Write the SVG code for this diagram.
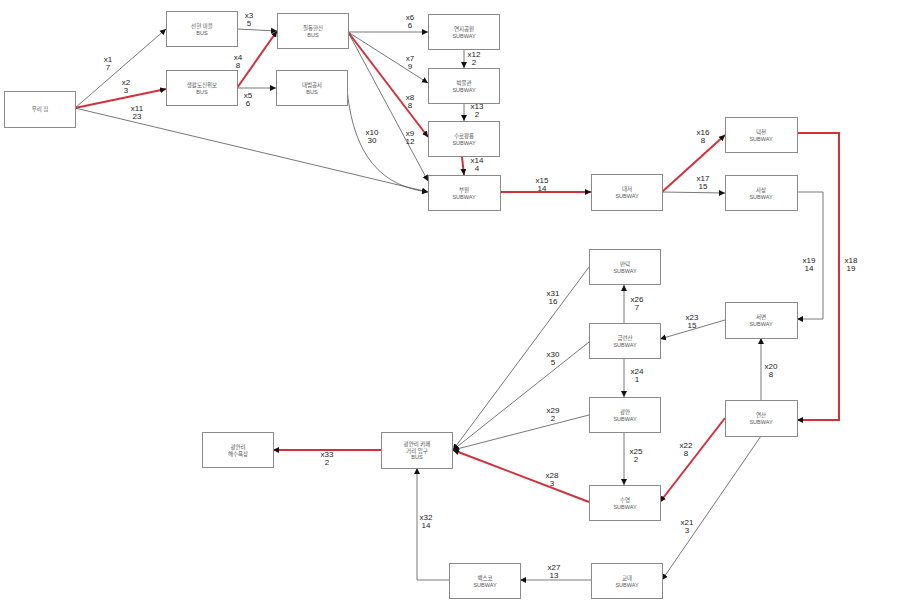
<svg xmlns="http://www.w3.org/2000/svg" width="903" height="603" viewBox="0 0 903 603">
<style>
.n rect{fill:#fff;stroke:#8a8a8a;stroke-width:1}
.n text{font-family:"Liberation Sans","Noto Sans CJK KR",sans-serif;font-size:5.5px;fill:#555;text-anchor:middle}
.e path{fill:none;stroke:#555;stroke-width:0.8;marker-end:url(#a)}
.e path.r{stroke:#d3303c;stroke-width:2}
.l text{font-family:"Liberation Sans","Noto Sans CJK KR",sans-serif;font-size:8px;fill:#222;text-anchor:middle}
</style>
<defs>
<marker id="a" markerUnits="userSpaceOnUse" markerWidth="8" markerHeight="8" refX="6" refY="3" orient="auto" viewBox="0 0 8 6">
<path d="M0,0 L6,3 L0,6 z" fill="#111"/>
</marker>
</defs>
<rect width="903" height="603" fill="#fff"/>
<g class="e" id="connectors">
<path d="M75,108 L166,29"/>
<path class="r" d="M75,108 L166,89"/>
<path d="M75,108 L428,192"/>
<path d="M237,29 L277,31"/>
<path class="r" d="M237,88 L277,31"/>
<path d="M237,88 L276,88"/>
<path d="M348,32 L428,32"/>
<path d="M348,32 L428,83"/>
<path class="r" d="M348,32 L428,137"/>
<path d="M348,32 L428,181"/>
<path d="M347,89 C352,140 370,185 428,192"/>
<path d="M464,50 L464,68"/>
<path d="M464,104 L464,121"/>
<path class="r" d="M462,157 L464,175"/>
<path class="r" d="M500,192 L591,192"/>
<path class="r" d="M662,192 L725,135"/>
<path d="M662,192 L725,193"/>
<path class="r" d="M797,133 L839,133 L839,420 L797,420"/>
<path d="M797,192 L823,192 L823,319 L797,319"/>
<path d="M761,401 L761,338"/>
<path d="M761,436 L662,580"/>
<path class="r" d="M725,418 L660,502"/>
<path d="M725,320 L660,339"/>
<path d="M624,359 L624,397"/>
<path d="M624,433 L624,485"/>
<path d="M624,323 L624,285"/>
<path d="M591,580 L520,580"/>
<path class="r" d="M589,502 L453,450"/>
<path d="M589,415 L453,450"/>
<path d="M589,342 L453,450"/>
<path d="M589,267 L453,450"/>
<path d="M449,580 L417,580 L417,468"/>
<path class="r" d="M381,450 L273,450"/>
</g>
<g class="l" id="labels">
<text x="108" y="62">x1</text><text x="108" y="70">7</text>
<text x="126" y="85">x2</text><text x="126" y="93">3</text>
<text x="137" y="111">x11</text><text x="137" y="119">23</text>
<text x="249" y="18">x3</text><text x="249" y="26">5</text>
<text x="238" y="60">x4</text><text x="238" y="68">8</text>
<text x="248" y="98">x5</text><text x="248" y="106">6</text>
<text x="410" y="20">x6</text><text x="410" y="28">6</text>
<text x="410" y="61">x7</text><text x="410" y="69">9</text>
<text x="410" y="100">x8</text><text x="410" y="108">8</text>
<text x="410" y="136">x9</text><text x="410" y="144">12</text>
<text x="372" y="135">x10</text><text x="372" y="143">30</text>
<text x="474" y="57">x12</text><text x="474" y="65">2</text>
<text x="477" y="109">x13</text><text x="477" y="117">2</text>
<text x="477" y="163">x14</text><text x="477" y="171">4</text>
<text x="542" y="183">x15</text><text x="542" y="191">14</text>
<text x="703" y="135">x16</text><text x="703" y="143">8</text>
<text x="703" y="181">x17</text><text x="703" y="189">15</text>
<text x="809" y="263">x19</text><text x="809" y="271">14</text>
<text x="851" y="263">x18</text><text x="851" y="271">19</text>
<text x="553" y="296">x31</text><text x="553" y="304">16</text>
<text x="637" y="302">x26</text><text x="637" y="310">7</text>
<text x="692" y="320">x23</text><text x="692" y="328">15</text>
<text x="553" y="357">x30</text><text x="553" y="365">5</text>
<text x="637" y="374">x24</text><text x="637" y="382">1</text>
<text x="771" y="369">x20</text><text x="771" y="377">8</text>
<text x="553" y="413">x29</text><text x="553" y="421">2</text>
<text x="686" y="448">x22</text><text x="686" y="456">8</text>
<text x="636" y="454">x25</text><text x="636" y="462">2</text>
<text x="327" y="457">x33</text><text x="327" y="465">2</text>
<text x="552" y="478">x28</text><text x="552" y="486">3</text>
<text x="426" y="520">x32</text><text x="426" y="528">14</text>
<text x="687" y="525">x21</text><text x="687" y="533">3</text>
<text x="554" y="570">x27</text><text x="554" y="578">13</text>
</g>
<g class="n" id="n-home"><rect x="4.5" y="91.5" width="71" height="36"/><text x="40" y="111">우리 집</text></g>
<g class="n" id="n-sunhyun"><rect x="166.5" y="11.5" width="71" height="35"/><text x="202" y="28">선현 마을</text><text x="202" y="34.5">BUS</text></g>
<g class="n" id="n-saenghwal"><rect x="166.5" y="70.5" width="71" height="35"/><text x="202" y="87">생활도신위보</text><text x="202" y="93.5">BUS</text></g>
<g class="n" id="n-jildong"><rect x="277.5" y="13.5" width="71" height="35"/><text x="313" y="30">질동한신</text><text x="313" y="36.5">BUS</text></g>
<g class="n" id="n-daebum"><rect x="276.5" y="70.5" width="71" height="35"/><text x="312" y="87">대범공사</text><text x="312" y="93.5">BUS</text></g>
<g class="n" id="n-yeonji"><rect x="428.5" y="14.5" width="71" height="35"/><text x="464" y="31">연지공원</text><text x="464" y="37.5">SUBWAY</text></g>
<g class="n" id="n-museum"><rect x="428.5" y="68.5" width="71" height="35"/><text x="464" y="85">박물관</text><text x="464" y="91.5">SUBWAY</text></g>
<g class="n" id="n-suro"><rect x="428.5" y="121.5" width="71" height="35"/><text x="464" y="138">수로왕릉</text><text x="464" y="144.5">SUBWAY</text></g>
<g class="n" id="n-buwon"><rect x="428.5" y="175.5" width="72" height="35"/><text x="464" y="192">부원</text><text x="464" y="198.5">SUBWAY</text></g>
<g class="n" id="n-daejeo"><rect x="591.5" y="174.5" width="71" height="36"/><text x="627" y="191">대저</text><text x="627" y="197.5">SUBWAY</text></g>
<g class="n" id="n-deokcheon"><rect x="725.5" y="117.5" width="72" height="35"/><text x="761" y="134">덕천</text><text x="761" y="140.5">SUBWAY</text></g>
<g class="n" id="n-sasang"><rect x="725.5" y="175.5" width="72" height="35"/><text x="761" y="192">사상</text><text x="761" y="198.5">SUBWAY</text></g>
<g class="n" id="n-seomyeon"><rect x="725.5" y="302.5" width="72" height="36"/><text x="761" y="319">서면</text><text x="761" y="325.5">SUBWAY</text></g>
<g class="n" id="n-yeonsan"><rect x="725.5" y="400.5" width="72" height="36"/><text x="761" y="417">연산</text><text x="761" y="423.5">SUBWAY</text></g>
<g class="n" id="n-mandeok"><rect x="589.5" y="249.5" width="71" height="35"/><text x="625" y="266">만덕</text><text x="625" y="272.5">SUBWAY</text></g>
<g class="n" id="n-geumnyeon"><rect x="589.5" y="323.5" width="71" height="35"/><text x="625" y="340">금련산</text><text x="625" y="346.5">SUBWAY</text></g>
<g class="n" id="n-gwangan"><rect x="589.5" y="397.5" width="71" height="35"/><text x="625" y="414">광안</text><text x="625" y="420.5">SUBWAY</text></g>
<g class="n" id="n-suyeong"><rect x="589.5" y="485.5" width="71" height="35"/><text x="625" y="502">수영</text><text x="625" y="508.5">SUBWAY</text></g>
<g class="n" id="n-gyodae"><rect x="591.5" y="563.5" width="71" height="35"/><text x="627" y="580">교대</text><text x="627" y="586.5">SUBWAY</text></g>
<g class="n" id="n-bexco"><rect x="449.5" y="563.5" width="71" height="35"/><text x="485" y="580">벡스코</text><text x="485" y="586.5">SUBWAY</text></g>
<g class="n" id="n-cafe"><rect x="381.5" y="432.5" width="71" height="36"/><text x="417" y="446">광안리 카페</text><text x="417" y="452.5">거리 입구</text><text x="417" y="459">BUS</text></g>
<g class="n" id="n-beach"><rect x="202.5" y="432.5" width="71" height="35"/><text x="238" y="449">광안리</text><text x="238" y="455.5">해수욕장</text></g>
</svg>
